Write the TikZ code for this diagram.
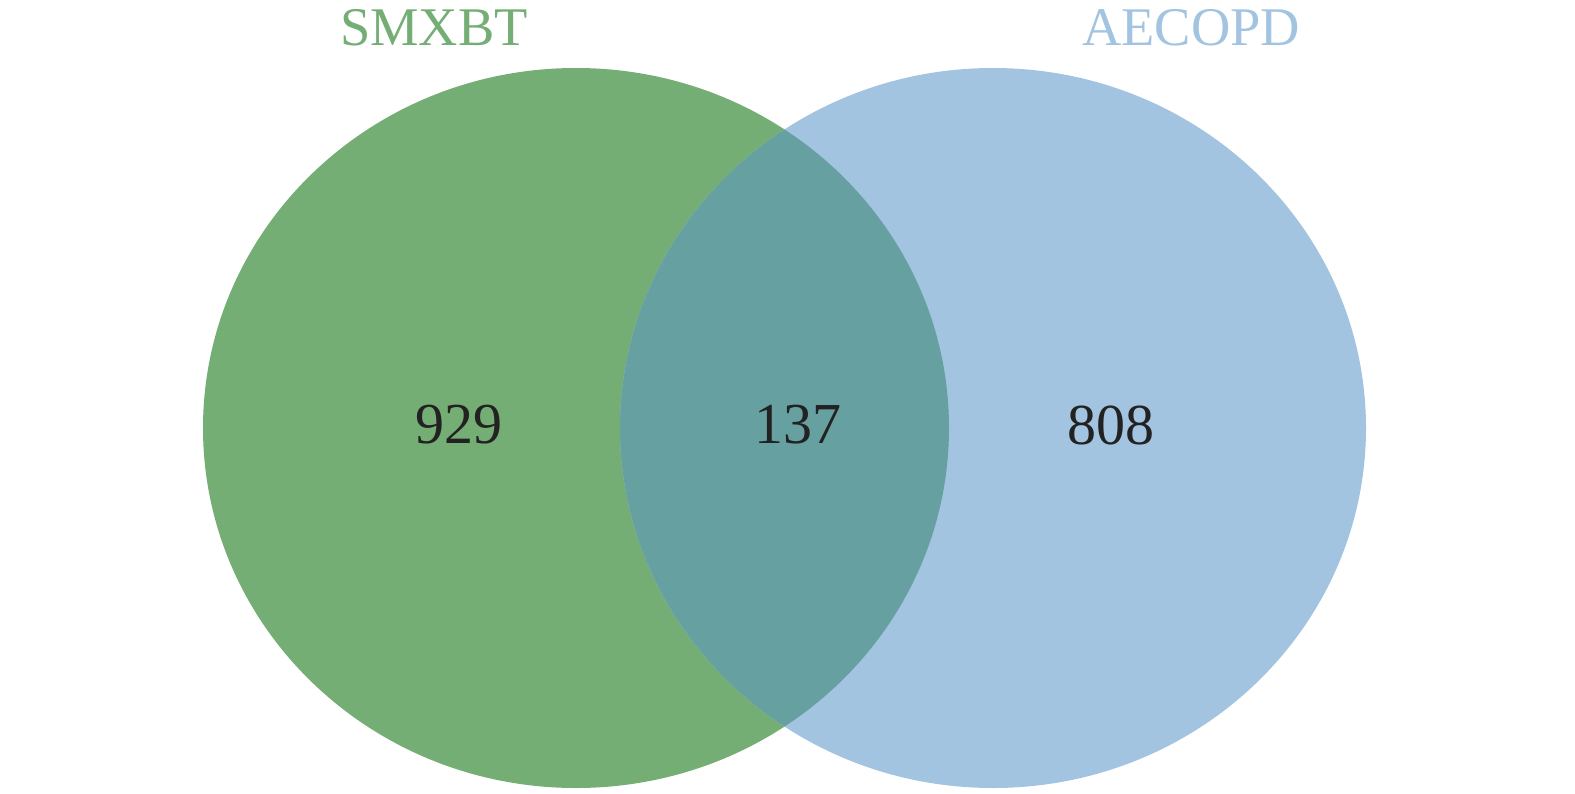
\documentclass[tikz,border=0pt]{standalone}
\usepackage{fontspec}
\setmainfont{Liberation Serif}
\usetikzlibrary{positioning}

\definecolor{setgreen}{HTML}{74AE74}
\definecolor{setblue}{HTML}{A2C4E0}
\definecolor{setboth}{HTML}{67A0A0}
\definecolor{numtext}{HTML}{222222}

\begin{document}
\begin{tikzpicture}[
        x=0.02cm, y=-0.02cm,
        % --- styles ---
        setlabel/.style={
                font=\fontsize{31}{36}\selectfont,
                inner sep=0pt
            },
        count/.style={
                font=\fontsize{33}{38}\selectfont,
                text=numtext,
                inner sep=0pt
            }
    ]

    % 0. Canvas
    \useasboundingbox (0,0) rectangle (1575,794);

    % 1. The two sets
    \fill[setgreen] (576,428) ellipse [x radius=373, y radius=360];
    \fill[setblue] (993,428) ellipse [x radius=373, y radius=360];

    % 2. Overlap
    \begin{scope}
        \clip (576,428) ellipse [x radius=373, y radius=360];
        \fill[setboth] (993,428) ellipse [x radius=373, y radius=360];
    \end{scope}

    % 3. Set names
    \node[setlabel, text=setgreen] (smxbt) at (434,28) {SMXBT};
    \node[setlabel, text=setblue] (aecopd) at (1191,28) {AECOPD};

    % 4. Counts
    \node[count] (onlyleft) at (459,425) {929};
    \node[count] (common) at (798,425) {137};
    \node[count] (onlyright) at (1111,425) {808};

\end{tikzpicture}
\end{document}
